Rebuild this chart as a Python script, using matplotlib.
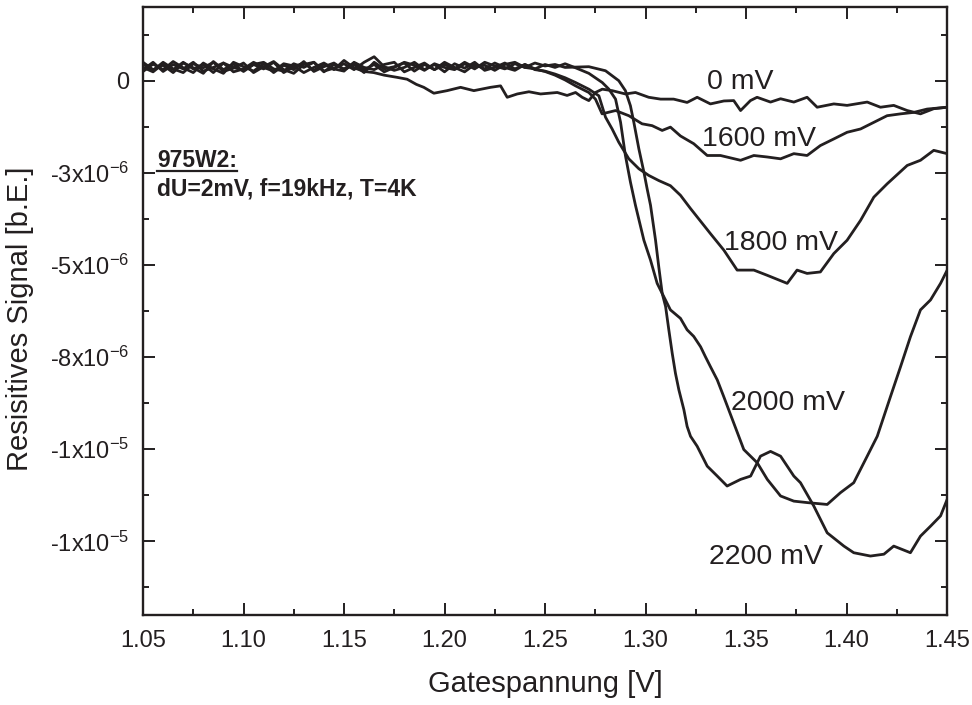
import matplotlib
matplotlib.use('Agg')
import matplotlib.pyplot as plt
from matplotlib.ticker import MultipleLocator, FixedLocator, FixedFormatter
from matplotlib.lines import Line2D

plt.rcParams['font.family'] = ['Liberation Sans', 'DejaVu Sans']
plt.rcParams['mathtext.fontset'] = 'custom'
plt.rcParams['mathtext.rm'] = 'Liberation Sans'
plt.rcParams['mathtext.it'] = 'Liberation Sans:italic'
plt.rcParams['mathtext.bf'] = 'Liberation Sans:bold'

INK = '#231f20'
SCALE = 1e-6  # values below are in units of 1e-6

# ---------------- data (gate voltage [V], signal [1e-6]) ----------------
flat_x = [1.050, 1.055, 1.060, 1.065, 1.070, 1.075, 1.080, 1.085, 1.090, 1.095,
          1.100, 1.105, 1.110, 1.115, 1.120, 1.125, 1.130, 1.135, 1.140, 1.145,
          1.150, 1.155, 1.160, 1.165, 1.170, 1.175, 1.180, 1.185, 1.190, 1.195,
          1.200, 1.205, 1.210, 1.215, 1.220, 1.225, 1.230, 1.235, 1.240, 1.245,
          1.250, 1.255, 1.260]

mv0_flat_y = [0.50, 0.30, 0.42, 0.22, 0.48, 0.35, 0.20, 0.52, 0.30, 0.45, 0.25, 0.44,
              0.32, 0.50, 0.22, 0.38, 0.48, 0.28, 0.45, 0.30, 0.55, 0.35, 0.25]
mv0_tail_x = [1.1648, 1.1700, 1.1765, 1.1814, 1.1860, 1.1897, 1.1947, 1.2013, 1.2080, 1.2146,
              1.2229, 1.2279, 1.2312, 1.2362, 1.2420, 1.2478, 1.2561, 1.2610, 1.2652, 1.2685,
              1.2718, 1.2751, 1.2785, 1.2834, 1.2900, 1.2950, 1.3016, 1.3075, 1.3140, 1.3207,
              1.3257, 1.3323, 1.3390, 1.3439, 1.3473, 1.3522, 1.3555, 1.3622, 1.3672, 1.3738,
              1.3804, 1.3854, 1.3937, 1.4003, 1.4103, 1.4169, 1.4235, 1.4302, 1.4368, 1.4434,
              1.4501]
mv0_tail_y = [0.22, 0.15, 0.09, 0.04, -0.10, -0.18, -0.34, -0.27, -0.18, -0.27,
              -0.18, -0.14, -0.45, -0.36, -0.30, -0.36, -0.32, -0.40, -0.32, -0.45,
              -0.54, -0.32, -0.23, -0.27, -0.36, -0.32, -0.45, -0.50, -0.50, -0.59,
              -0.45, -0.63, -0.55, -0.54, -0.81, -0.54, -0.45, -0.58, -0.49, -0.58,
              -0.45, -0.72, -0.63, -0.67, -0.58, -0.72, -0.67, -0.81, -0.90, -0.76,
              -0.72]

mv1600_flat_y = [0.25, 0.45, 0.30, 0.52, 0.35, 0.22, 0.48, 0.32, 0.20, 0.50, 0.38, 0.26,
                 0.46, 0.22, 0.42, 0.30, 0.52, 0.25, 0.38, 0.48, 0.30, 0.44, 0.22, 0.50,
                 0.32, 0.38, 0.48, 0.26, 0.44, 0.30, 0.50, 0.36, 0.24, 0.44, 0.32, 0.48,
                 0.36, 0.28, 0.44, 0.32, 0.25, 0.15, 0.02]
mv1600_tail_x = [1.2652, 1.2718, 1.2751, 1.2784, 1.2851, 1.2917, 1.2983, 1.3033, 1.3083, 1.3124,
                 1.3174, 1.3240, 1.3307, 1.3373, 1.3473, 1.3539, 1.3605, 1.3672, 1.3738, 1.3804,
                 1.3870, 1.3937, 1.4003, 1.4070, 1.4136, 1.4202, 1.4269, 1.4335, 1.4401, 1.4501]
mv1600_tail_y = [-0.14, -0.32, -0.50, -0.90, -0.81, -0.95, -1.17, -1.22, -1.35, -1.26,
                 -1.50, -1.71, -2.03, -2.03, -2.16, -2.03, -2.07, -2.12, -1.98, -2.03,
                 -1.76, -1.58, -1.40, -1.31, -1.13, -0.95, -0.90, -0.86, -0.77, -0.72]

mv1800_flat_y = [0.45, 0.28, 0.50, 0.32, 0.22, 0.46, 0.35, 0.50, 0.25, 0.34, 0.48, 0.22,
                 0.38, 0.52, 0.30, 0.20, 0.44, 0.50, 0.26, 0.34, 0.46, 0.30, 0.50, 0.65,
                 0.38, 0.28, 0.36, 0.50, 0.30, 0.44, 0.24, 0.46, 0.34, 0.50, 0.28, 0.36,
                 0.48, 0.32, 0.44, 0.30, 0.26, 0.18, 0.08]
mv1800_tail_x = [1.2652, 1.2718, 1.2768, 1.2801, 1.2834, 1.2867, 1.2917, 1.2967, 1.3016, 1.3066,
                 1.3124, 1.3174, 1.3224, 1.3323, 1.3390, 1.3456, 1.3539, 1.3605, 1.3705, 1.3754,
                 1.3804, 1.3870, 1.3937, 1.4003, 1.4070, 1.4136, 1.4202, 1.4302, 1.4368, 1.4434,
                 1.4501]
mv1800_tail_y = [-0.05, -0.23, -0.41, -0.99, -1.31, -1.67, -2.12, -2.39, -2.57, -2.71,
                 -2.85, -3.11, -3.47, -4.15, -4.60, -5.14, -5.14, -5.28, -5.50, -5.14,
                 -5.23, -5.19, -4.69, -4.33, -3.79, -3.16, -2.80, -2.30, -2.16, -1.89,
                 -1.98]

mv2000_flat_y = [0.30, 0.50, 0.25, 0.44, 0.32, 0.50, 0.26, 0.36, 0.48, 0.24, 0.32, 0.50,
                 0.36, 0.26, 0.46, 0.40, 0.22, 0.36, 0.48, 0.32, 0.26, 0.50, 0.36, 0.30,
                 0.44, 0.50, 0.24, 0.36, 0.48, 0.30, 0.44, 0.32, 0.50, 0.36, 0.42, 0.28,
                 0.44, 0.50, 0.36, 0.32, 0.44, 0.36, 0.46]
mv2000_tail_x = [1.2652, 1.2718, 1.2785, 1.2818, 1.2851, 1.2876, 1.2900, 1.2925, 1.2950, 1.2992,
                 1.3025, 1.3058, 1.3091, 1.3124, 1.3174, 1.3207, 1.3240, 1.3274, 1.3298, 1.3323,
                 1.3357, 1.3389, 1.3439, 1.3489, 1.3556, 1.3606, 1.3672, 1.3738, 1.3805, 1.3904,
                 1.3970, 1.4036, 1.4103, 1.4153, 1.4219, 1.4269, 1.4318, 1.4368, 1.4418, 1.4468,
                 1.4501]
mv2000_tail_y = [0.35, 0.20, -0.05, -0.23, -0.50, -1.13, -2.03, -2.75, -3.38, -4.33,
                 -4.87, -5.50, -5.86, -6.22, -6.45, -6.76, -6.94, -7.22, -7.49, -7.76,
                 -8.12, -8.57, -9.29, -10.01, -10.37, -10.82, -11.27, -11.41, -11.45, -11.50,
                 -11.18, -10.91, -10.19, -9.65, -8.57, -7.76, -6.95, -6.22, -5.95, -5.50,
                 -5.14]

mv2200_flat_y = [0.36, 0.24, 0.46, 0.30, 0.50, 0.32, 0.44, 0.22, 0.48, 0.36, 0.28, 0.44,
                 0.50, 0.32, 0.26, 0.46, 0.36, 0.50, 0.24, 0.44, 0.32, 0.48, 0.30, 0.44,
                 0.24, 0.36, 0.50, 0.42, 0.28, 0.46, 0.36, 0.30, 0.46, 0.32, 0.50, 0.40,
                 0.32, 0.46, 0.36, 0.48, 0.40, 0.44, 0.36]
mv2200_tail_x = [1.2718, 1.2801, 1.2867, 1.2900, 1.2925, 1.2942, 1.2967, 1.2992, 1.3008, 1.3025,
                 1.3050, 1.3066, 1.3083, 1.3100, 1.3116, 1.3133, 1.3149, 1.3166, 1.3191, 1.3207,
                 1.3224, 1.3257, 1.3307, 1.3357, 1.3406, 1.3473, 1.3523, 1.3572, 1.3622, 1.3672,
                 1.3738, 1.3771, 1.3837, 1.3904, 1.3987, 1.4036, 1.4119, 1.4186, 1.4235, 1.4318,
                 1.4368, 1.4418, 1.4468, 1.4501]
mv2200_tail_y = [0.38, 0.27, 0.00, -0.27, -0.68, -1.13, -1.85, -2.48, -2.93, -3.38,
                 -4.33, -5.05, -5.77, -6.13, -6.76, -7.40, -7.94, -8.39, -8.93, -9.38,
                 -9.65, -9.92, -10.46, -10.73, -11.00, -10.82, -10.73, -10.19, -10.06, -10.19,
                 -10.73, -10.91, -11.54, -12.27, -12.63, -12.81, -12.90, -12.85, -12.63, -12.81,
                 -12.36, -12.09, -11.81, -11.36]

curve_names = ['0 mV', '1600 mV', '1800 mV', '2000 mV', '2200 mV']
# label anchor (left x [V], baseline y [1e-6])
label_x = [1.3307, 1.3282, 1.3390, 1.3423, 1.3315]
label_y = [-0.22, -1.76, -4.60, -8.93, -13.12]

y_ticks = [0.0, -2.5, -5.0, -7.5, -10.0, -12.5]
y_ticklabels = ['0', r'-3x10$^{-6}$', r'-5x10$^{-6}$', r'-8x10$^{-6}$',
                r'-1x10$^{-5}$', r'-1x10$^{-5}$']
x_ticks = [1.05, 1.10, 1.15, 1.20, 1.25, 1.30, 1.35, 1.40, 1.45]
x_ticklabels = ['1.05', '1.10', '1.15', '1.20', '1.25', '1.30', '1.35', '1.40', '1.45']

# ---------------- figure ----------------
fig = plt.figure(figsize=(9.72, 7.05), dpi=100)
ax = fig.add_axes([143 / 972, 1 - 615 / 705, (947 - 143) / 972, (615 - 7) / 705])

curves = [
    (flat_x[:len(mv0_flat_y)] + mv0_tail_x, mv0_flat_y + mv0_tail_y),
    (flat_x + mv1600_tail_x, mv1600_flat_y + mv1600_tail_y),
    (flat_x + mv1800_tail_x, mv1800_flat_y + mv1800_tail_y),
    (flat_x + mv2000_tail_x, mv2000_flat_y + mv2000_tail_y),
    (flat_x + mv2200_tail_x, mv2200_flat_y + mv2200_tail_y),
]
for xs, ys in curves:
    ax.plot(xs, [v * SCALE for v in ys], color=INK, lw=2.0,
            solid_joinstyle='round', solid_capstyle='round')

for name, lx, ly in zip(curve_names, label_x, label_y):
    ax.text(lx, ly * SCALE, name, fontsize=20.5, color=INK, ha='left', va='baseline')

ax.set_xlim(1.05, 1.45)
ax.set_ylim(-14.5 * SCALE, 2.0 * SCALE)

ax.xaxis.set_major_locator(FixedLocator(x_ticks))
ax.xaxis.set_major_formatter(FixedFormatter(x_ticklabels))
ax.xaxis.set_minor_locator(MultipleLocator(0.025))
ax.yaxis.set_major_locator(FixedLocator([v * SCALE for v in y_ticks]))
ax.yaxis.set_major_formatter(FixedFormatter(y_ticklabels))
ax.yaxis.set_minor_locator(MultipleLocator(1.25 * SCALE))

ax.tick_params(which='both', direction='in', top=True, right=True,
               color=INK, labelcolor=INK, labelsize=17)
ax.tick_params(which='major', length=8.5, width=1.4)
ax.tick_params(which='minor', length=4.5, width=1.4)
ax.tick_params(axis='x', pad=10.5)
ax.tick_params(axis='y', pad=10)
for sp in ax.spines.values():
    sp.set_linewidth(1.7)
    sp.set_color(INK)

ax.set_xlabel('Gatespannung [V]', fontsize=21, color=INK, labelpad=13)
ax.set_ylabel('Resisitives Signal [b.E.]', fontsize=21, color=INK)
ax.yaxis.set_label_coords(-0.1356, 0.487)

# annotation block
t1 = ax.text(1.0572, -2.35 * SCALE, '975W2:', fontsize=16.5, fontweight='bold',
             color=INK, ha='left', va='baseline')
ax.text(1.0572, -3.11 * SCALE, 'dU=2mV, f=19kHz, T=4K', fontsize=16.5,
        fontweight='bold', color=INK, ha='left', va='baseline')

fig.canvas.draw()
bb = t1.get_window_extent(renderer=fig.canvas.get_renderer())
_, base_y = ax.transData.transform((1.0572, -2.35 * SCALE))
uy = base_y - 4
fig.add_artist(Line2D([bb.x0 / fig.bbox.width, bb.x1 / fig.bbox.width],
                      [uy / fig.bbox.height, uy / fig.bbox.height],
                      color=INK, lw=1.6, transform=fig.transFigure))

fig.savefig('out.png', dpi=100)
